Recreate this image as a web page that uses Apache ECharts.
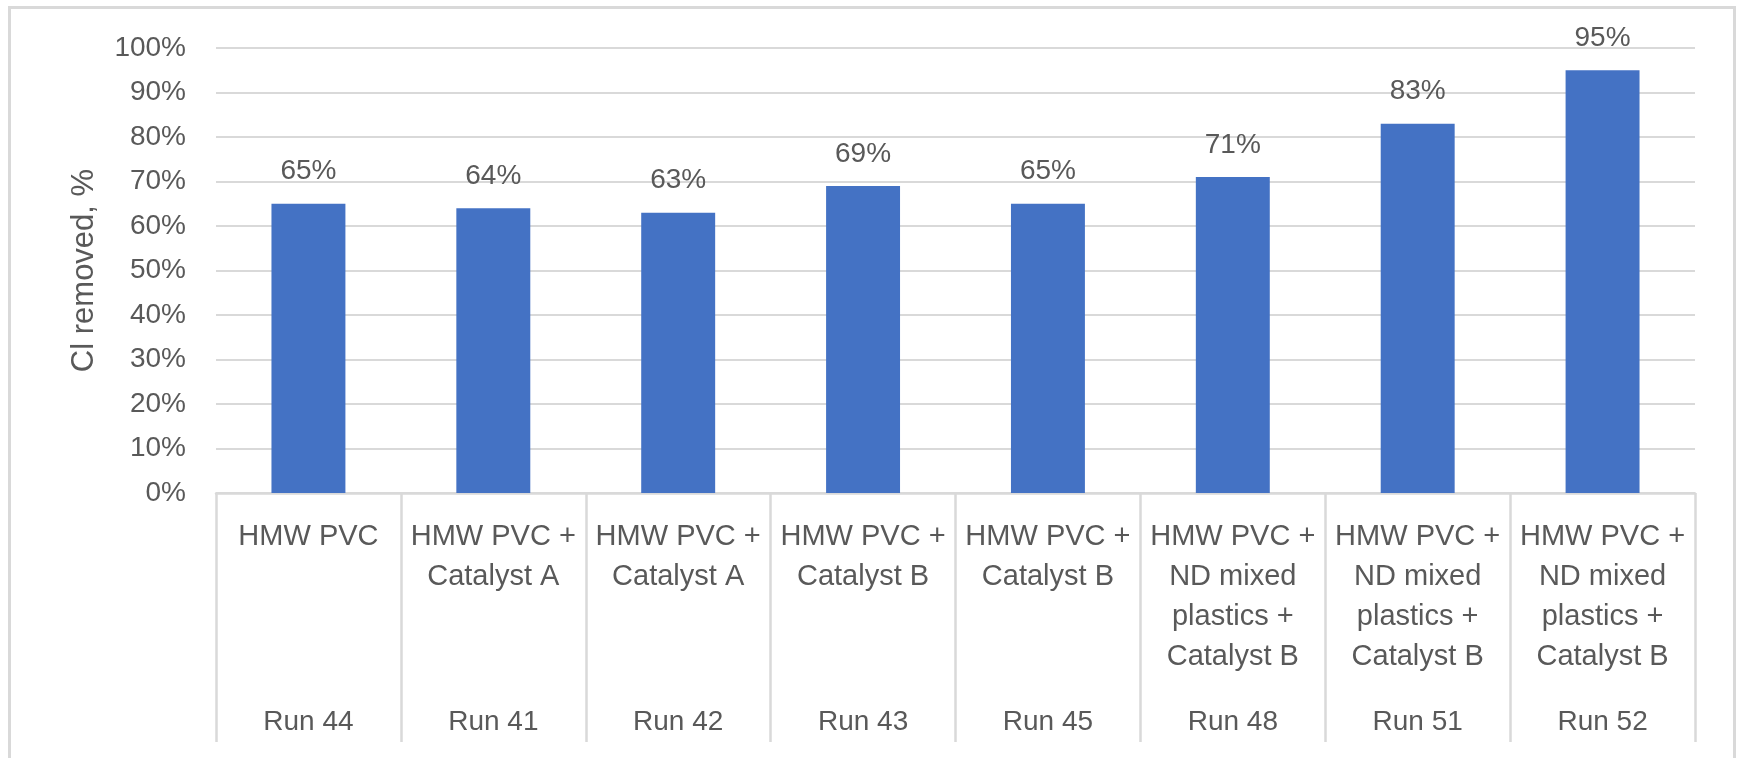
<!DOCTYPE html>
<html>
<head>
<meta charset="utf-8">
<title>Cl removed by run</title>
<script src="https://cdn.jsdelivr.net/npm/echarts@6/dist/echarts.min.js"></script>
<style>
  html, body { margin: 0; padding: 0; background: #ffffff; }
  #chart { width: 1737px; height: 758px; }
</style>
</head>
<body>
<div id="chart"></div>
<script>
// Feedstock / catalyst combination for each run (upper label row)
const feedstocks = [
  'HMW PVC',
  'HMW PVC +\nCatalyst A',
  'HMW PVC +\nCatalyst A',
  'HMW PVC +\nCatalyst B',
  'HMW PVC +\nCatalyst B',
  'HMW PVC +\nND mixed\nplastics +\nCatalyst B',
  'HMW PVC +\nND mixed\nplastics +\nCatalyst B',
  'HMW PVC +\nND mixed\nplastics +\nCatalyst B'
];
// Run identifiers (lower label row)
const runs = ['Run 44', 'Run 41', 'Run 42', 'Run 43', 'Run 45', 'Run 48', 'Run 51', 'Run 52'];
// Chlorine removed, percent
const clRemoved = [65, 64, 63, 69, 65, 71, 83, 95];
// Value axis ticks
const yMin = 0, yMax = 100, yStep = 10;
const yTitle = 'Cl removed, %';

const textColor = '#595959';
const lineColor = '#D9D9D9';
const font = '"Liberation Sans", Arial, sans-serif';

const chart = echarts.init(document.getElementById('chart'), null, { renderer: 'canvas' });

chart.setOption({
  animation: false,
  backgroundColor: '#ffffff',
  textStyle: { fontFamily: font, color: textColor },
  graphic: [{
    type: 'rect',
    silent: true,
    shape: { x: 9.5, y: 7.5, width: 1725, height: 800 },
    style: { fill: 'none', stroke: lineColor, lineWidth: 3 }
  }],
  grid: { left: 216, right: 42, top: 48, bottom: 265, containLabel: false },
  xAxis: [
    {
      type: 'category',
      position: 'bottom',
      data: feedstocks,
      axisLine: { show: true, lineStyle: { color: lineColor, width: 2.5 } },
      axisTick: { show: true, interval: 0, length: 249, lineStyle: { color: lineColor, width: 2.5 } },
      axisLabel: {
        interval: 0,
        margin: 24,
        color: textColor,
        fontFamily: font,
        fontSize: 29,
        lineHeight: 40,
        verticalAlign: 'top',
        align: 'center'
      },
      splitLine: { show: false }
    },
    {
      type: 'category',
      position: 'bottom',
      data: runs,
      axisLine: { show: false },
      axisTick: { show: false },
      axisLabel: {
        interval: 0,
        margin: 209,
        color: textColor,
        fontFamily: font,
        fontSize: 28,
        lineHeight: 40,
        verticalAlign: 'top',
        align: 'center'
      },
      splitLine: { show: false }
    }
  ],
  yAxis: {
    type: 'value',
    min: yMin,
    max: yMax,
    interval: yStep,
    name: yTitle,
    nameLocation: 'middle',
    nameGap: 116,
    nameRotate: 90,
    nameTextStyle: { color: textColor, fontFamily: font, fontSize: 31 },
    axisLine: { show: false },
    axisTick: { show: false },
    axisLabel: {
      margin: 30,
      color: textColor,
      fontFamily: font,
      fontSize: 28,
      formatter: '{value}%'
    },
    splitLine: { show: true, lineStyle: { color: lineColor, width: 2 } }
  },
  series: [{
    type: 'bar',
    xAxisIndex: 0,
    data: clRemoved,
    barWidth: '40%',
    itemStyle: { color: '#4472C4' },
    label: {
      show: true,
      position: 'top',
      distance: 18,
      color: textColor,
      fontFamily: font,
      fontSize: 28,
      lineHeight: 28,
      formatter: '{c}%'
    }
  }]
});
</script>
</body>
</html>
